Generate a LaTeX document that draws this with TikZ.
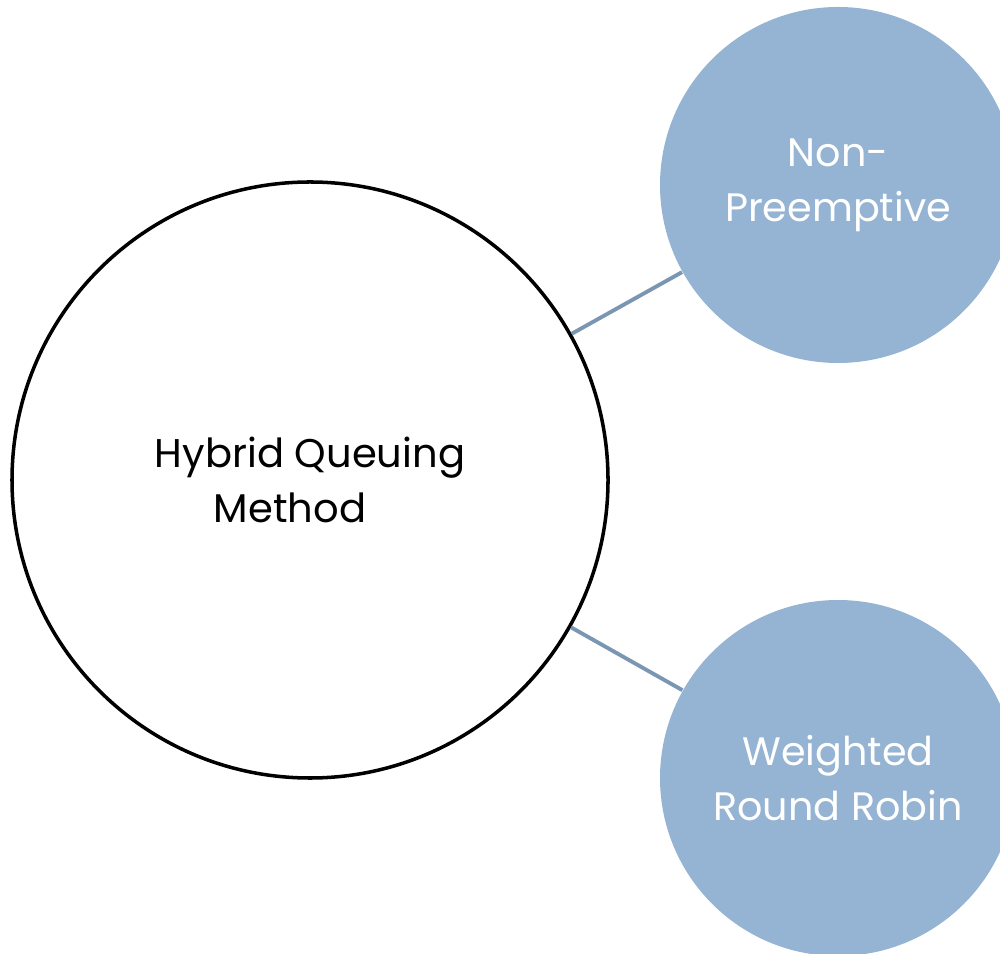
\documentclass[tikz,border=0pt]{standalone}
\usepackage{fontspec}
\setmainfont{Poppins}
\definecolor{bubble}{RGB}{149,179,210}
\definecolor{spoke}{RGB}{122,150,178}
\begin{document}
\begin{tikzpicture}[
  hub/.style={circle,draw=black,line width=1pt,fill=white,minimum size=5.96cm,inner sep=0pt,align=center,font=\fontsize{11.4}{15.6}\selectfont},
  leaf/.style={circle,fill=bubble,minimum size=3.56cm,inner sep=0pt,align=center,text=white,font=\fontsize{11.3}{15.6}\selectfont},
  link/.style={draw=spoke,line width=1.1pt}
]
  \useasboundingbox (0,0) rectangle (10,9.53);
  % Central method
  \node[hub] (hq) at (3.10,4.73) {Hybrid Queuing\\Method\hbox to 1em{}};
  % Two schemes on the right
  \node[leaf] (np) at (8.38,7.68) {Non-\\Preemptive};
  \node[leaf] (wrr) at (8.38,1.75) {Weighted\\Round Robin};
  % Spokes
  \draw[link] (hq) -- (np);
  \draw[link] (hq) -- (wrr);
\end{tikzpicture}
\end{document}
